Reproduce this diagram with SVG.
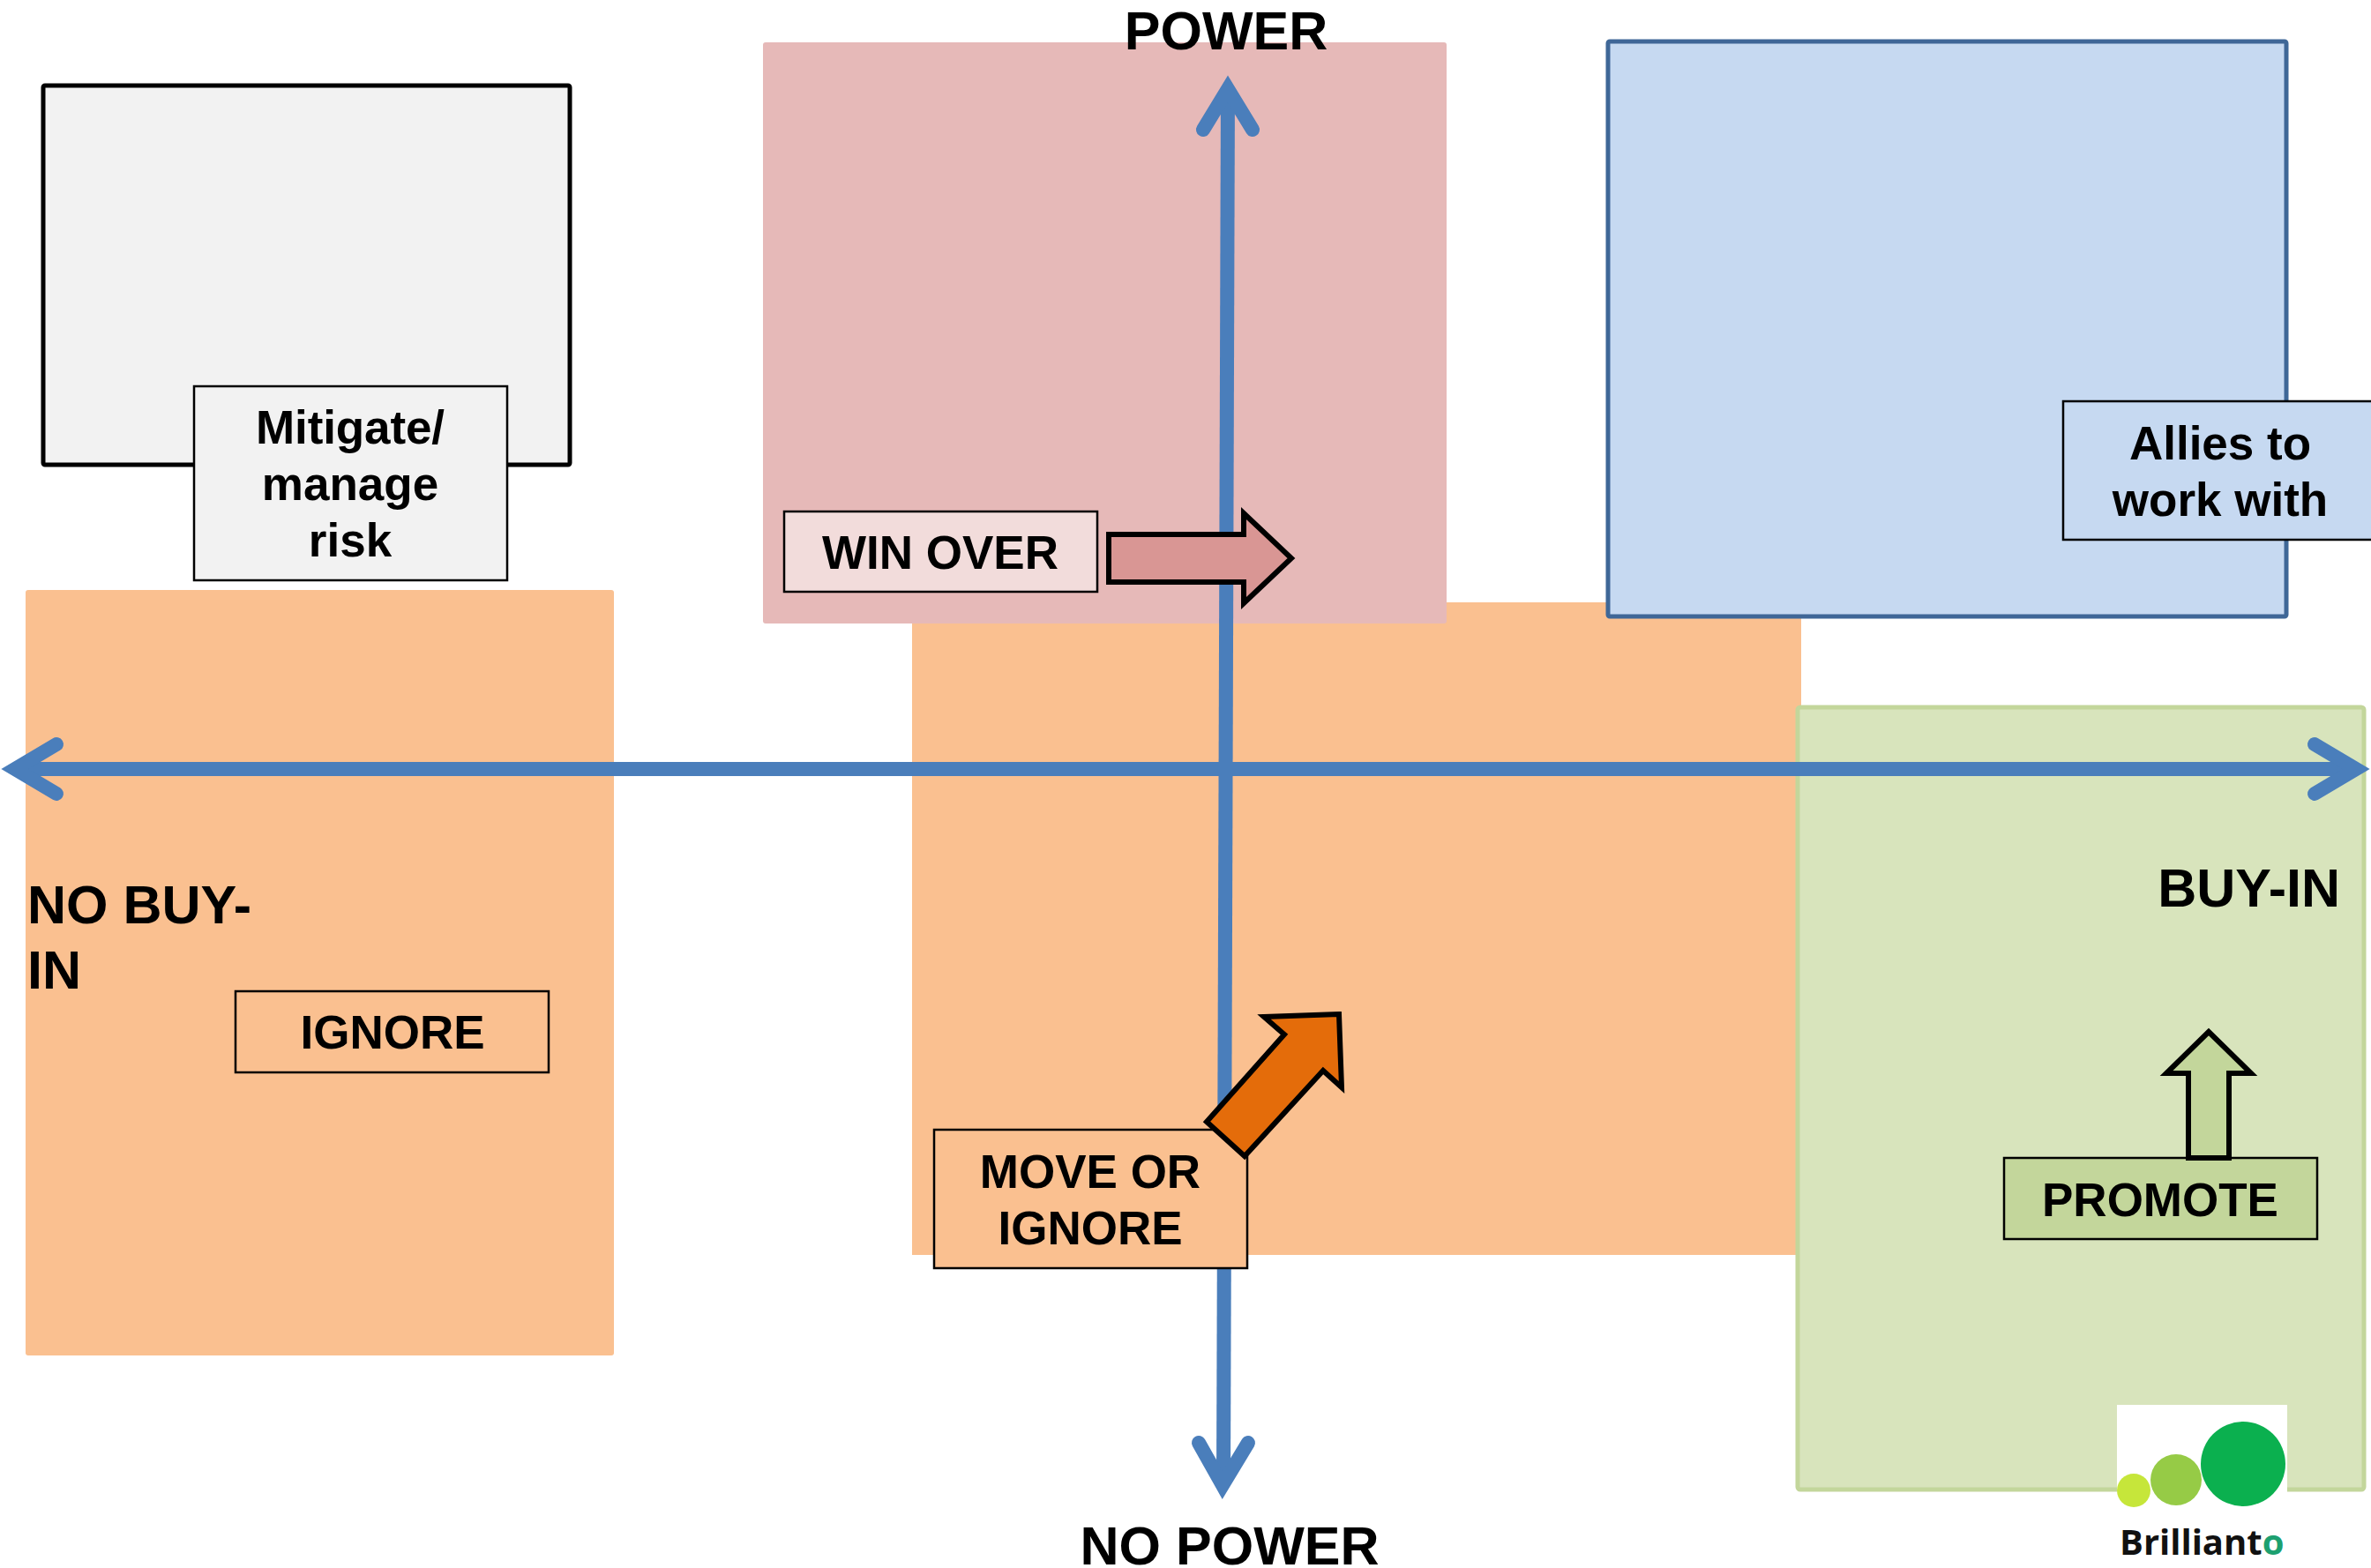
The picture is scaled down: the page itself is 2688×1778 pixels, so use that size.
<svg xmlns="http://www.w3.org/2000/svg" width="2688" height="1778" viewBox="0 0 2688 1778">
<style>
text{font-family:"Liberation Sans",Arial,sans-serif;font-weight:700;fill:#000}
.big{font-size:61px}
.lab{font-size:53px;text-anchor:middle}
.box{stroke:#000;stroke-width:2.5}
.blk{stroke:#000;stroke-width:6;stroke-linejoin:miter;stroke-miterlimit:10}
.ax{fill:none;stroke:#4A7EBB;stroke-width:16}
.hd{fill:none;stroke:#4A7EBB;stroke-width:16;stroke-linecap:round;stroke-linejoin:miter;stroke-miterlimit:10}
</style>
<rect width="2688" height="1778" fill="#fff"/>
<g id="zone-center"><rect x="1034" y="683" width="1008" height="740" fill="#FAC090"/></g>
<g id="zone-ignore"><rect x="29" y="669" width="667" height="868" rx="3" fill="#FAC090"/></g>
<g id="zone-winover"><rect x="865" y="48" width="775" height="659" rx="3" fill="#E6B9B8"/></g>
<g id="zone-allies"><rect x="1823" y="47" width="769" height="652" rx="2" fill="#C6D9F1" stroke="#3F6797" stroke-width="5"/></g>
<g id="zone-risk"><rect x="49" y="97" width="597" height="430" rx="2" fill="#F2F2F2" stroke="#000" stroke-width="5"/></g>
<g id="zone-promote"><rect x="2038" y="802" width="642" height="887" rx="3" fill="#D8E4BC" stroke="#C3D69B" stroke-width="5"/></g>
<g id="connectors">
<path class="ax" d="M1392 100L1387 1682"/>
<path class="hd" d="M1364 147L1392 101L1420 147"/>
<path class="hd" d="M1359 1636L1386 1684L1415 1636"/>
<path class="ax" d="M20 872H2670"/>
<path class="hd" d="M64 844L17 872L64 900"/>
<path class="hd" d="M2624 844L2671 872L2624 900"/>
</g>
<g id="label-power"><text class="big" x="1390" y="56" text-anchor="middle">POWER</text></g>
<g id="label-nopower"><text class="big" x="1394" y="1774" text-anchor="middle">NO POWER</text></g>
<g id="label-nobuyin"><text class="big" x="31" y="1047">NO BUY-</text><text class="big" x="31" y="1121">IN</text></g>
<g id="label-buyin"><text class="big" x="2653" y="1028" text-anchor="end">BUY-IN</text></g>
<g id="node-mitigate"><rect class="box" x="220" y="438" width="355" height="220" fill="#F2F2F2"/><text class="lab" x="397" y="503" textLength="214" lengthAdjust="spacing">Mitigate/</text><text class="lab" x="397" y="567">manage</text><text class="lab" x="397" y="631">risk</text></g>
<g id="node-allies"><rect class="box" x="2339" y="455" width="360" height="157" fill="#C6D9F1"/><text class="lab" x="2517" y="521">Allies to</text><text class="lab" x="2517" y="585">work with</text></g>
<g id="node-winover"><rect class="box" x="889" y="580" width="355" height="91" fill="#F2DCDB"/><text class="lab" x="1066" y="645">WIN OVER</text></g>
<g id="arrow-winover"><path class="blk" fill="#D99694" d="M1257 606H1410V582L1464 633L1410 684V660H1257Z"/></g>
<g id="node-ignore"><rect class="box" x="267" y="1124" width="355" height="92" fill="#FAC090"/><text class="lab" x="445" y="1189">IGNORE</text></g>
<g id="node-move"><rect class="box" x="1059" y="1281" width="355" height="157" fill="#FAC090"/><text class="lab" x="1236" y="1347">MOVE OR</text><text class="lab" x="1236" y="1411">IGNORE</text></g>
<g id="arrow-move"><path class="blk" fill="#E46C0A" d="M1518 1150L1433 1153L1456 1173L1368 1272L1411 1311L1500 1214L1521 1233Z"/></g>
<g id="node-promote"><rect class="box" x="2272" y="1313" width="355" height="92" fill="#C3D69B"/><text class="lab" x="2449" y="1379">PROMOTE</text></g>
<g id="arrow-promote"><path class="blk" fill="#C3D69B" d="M2504 1170L2456 1217H2481V1313H2527V1217H2552Z"/></g>
<g id="logo"><rect x="2400" y="1593" width="193" height="185" fill="#fff"/><circle cx="2419" cy="1690" r="19" fill="#C6E63A"/><circle cx="2467" cy="1678" r="29" fill="#96CB46"/><circle cx="2543" cy="1660" r="48" fill="#0BB04F"/><text x="2403" y="1763" font-size="40" style="font-family:'Open Sans','Liberation Sans',sans-serif;fill:#111">Brilliant<tspan style="fill:#1DA070">o</tspan></text></g>
</svg>
